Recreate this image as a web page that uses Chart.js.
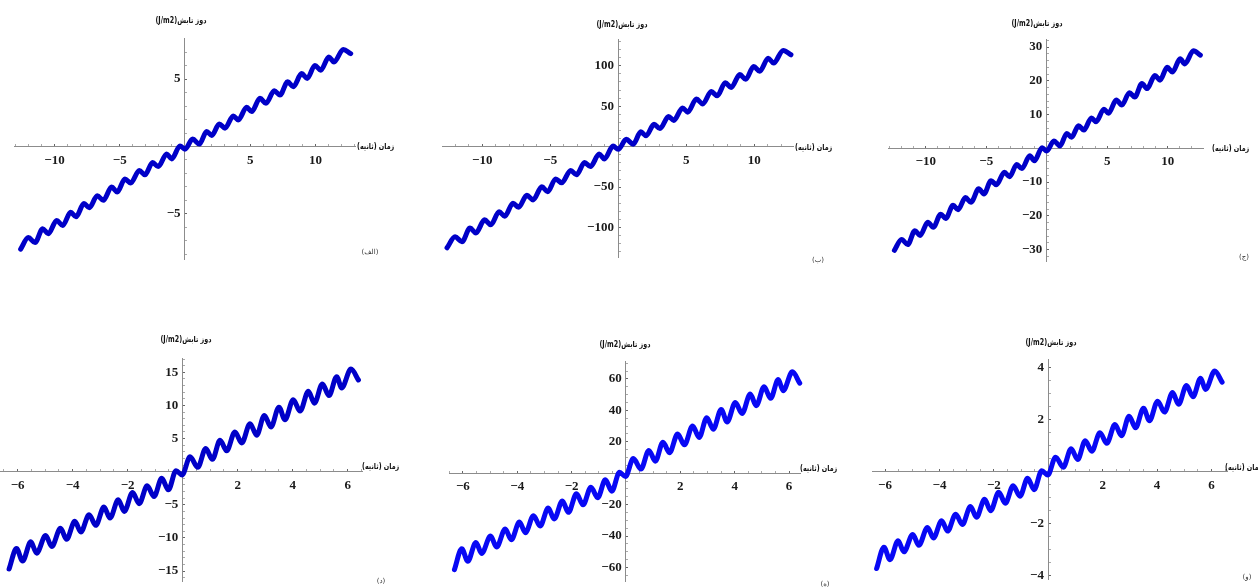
<!DOCTYPE html>
<html lang="fa">
<head>
<meta charset="utf-8">
<title>دوز تابش</title>
<script src="https://cdn.jsdelivr.net/npm/chart.js@4.4.1/dist/chart.umd.min.js"></script>
<style>
  html, body { margin: 0; padding: 0; background: #fff; }
  #page { position: relative; width: 1258px; height: 588px; overflow: hidden; }
  canvas { position: absolute; }
  .ytitle, .xtitle, .tag { position: absolute; direction: rtl; white-space: nowrap; font-family: "DejaVu Sans", sans-serif; color: #111; }
  .ytitle { font-size: 8px; font-weight: bold; transform: translate(-50%, -50%) scaleX(0.8); }
  .xtitle { font-size: 8px; font-weight: bold; transform-origin: 0 50%; transform: translateY(-50%) scaleX(0.8); }
  .tag { font-size: 7px; color: #333; transform: translate(-50%, -50%); }
</style>
</head>
<body>
<div id="page"></div>
<script>
const timeTop = [-12.59, -12.0, -11.49, -10.9, -10.47, -9.83, -9.37, -8.76, -8.35, -7.74, -7.33, -6.72, -6.26, -5.62, -5.19, -4.6, -4.16, -3.5, -3.07, -2.48, -2.05, -1.40, -1.02, -0.38, 0.0,
  0.59, 1.10, 1.66, 2.05, 2.63, 3.07, 3.70, 4.08, 4.73, 5.11, 5.75, 6.21, 6.84, 7.28, 7.87, 8.30, 8.94, 9.37, 9.96, 10.40, 11.03, 11.42, 12.13, 12.70];
const timeBottom = [-6.31, -6.04, -5.82, -5.52, -5.31, -4.98, -4.76, -4.44, -4.22, -3.92, -3.70, -3.40, -3.16, -2.86, -2.64, -2.34, -2.12, -1.82, -1.58, -1.29, -1.04, -0.76, -0.52, -0.24, -0.02,
  0.27, 0.55, 0.84, 1.08, 1.36, 1.60, 1.90, 2.15, 2.45, 2.69, 2.97, 3.21, 3.50, 3.72, 4.02, 4.27, 4.57, 4.79, 5.08, 5.32, 5.60, 5.78, 6.12, 6.39];

// dose (J/m2) at those times, one array per panel
const doseA = [-7.61, -6.75, -7.12, -6.09, -6.46, -5.48, -5.85, -4.87, -5.21, -4.23, -4.54, -3.64, -3.99, -3.0, -3.37, -2.41, -2.71, -1.78, -2.10, -1.19, -1.49, -0.55, -0.92, 0.04, -0.2,
  0.55, 0.18, 1.11, 0.82, 1.67, 1.36, 2.26, 1.97, 2.90, 2.59, 3.57, 3.20, 4.13, 3.81, 4.79, 4.43, 5.40, 5.04, 6.01, 5.65, 6.63, 6.26, 7.19, 6.88];
const doseB = [-125, -111.4, -117.5, -100.5, -106.6, -90.4, -96.5, -80.4, -86.0, -69.8, -74.9, -60.1, -65.8, -49.5, -55.6, -39.8, -44.7, -29.4, -34.7, -19.6, -24.6, -9.1, -15.2, 0.7, -3.3,
  9.1, 3.0, 18.3, 13.5, 27.6, 22.4, 37.3, 32.5, 47.9, 42.7, 58.9, 52.8, 68.1, 62.9, 79.0, 73.1, 89.1, 83.2, 99.2, 93.2, 109.4, 103.3, 119, 113.6];
const doseC = [-30.2, -27.0, -28.5, -24.4, -25.8, -21.9, -23.4, -19.5, -20.8, -16.9, -18.2, -14.6, -16.0, -12.0, -13.5, -9.6, -10.8, -7.1, -8.4, -4.8, -6.0, -2.2, -3.7, 0.2, -0.8,
  2.2, 0.7, 4.4, 3.3, 6.7, 5.4, 9.0, 7.9, 11.6, 10.4, 14.3, 12.8, 16.5, 15.2, 19.2, 17.7, 21.6, 20.2, 24.0, 22.6, 26.5, 25.0, 28.9, 27.6];
const doseD = [-14.7, -11.6, -13.5, -10.6, -12.3, -9.64, -11.3, -8.55, -10.2, -7.5, -9.1, -6.5, -8.1, -5.35, -7.0, -4.24, -6.0, -3.15, -4.84, -2.14, -3.75, -1.0, -2.74, 0.15, -0.5,
  2.25, 0.66, 3.5, 1.86, 4.75, 3.15, 6.0, 4.35, 7.25, 5.5, 8.5, 6.75, 9.75, 7.85, 10.85, 9.15, 12.15, 10.35, 13.25, 11.5, 14.35, 12.65, 15.5, 13.85];
const doseE = [-61.3, -48.1, -56.0, -44.0, -51.0, -40.0, -46.9, -35.5, -42.3, -31.1, -37.8, -27.0, -33.6, -22.2, -29.1, -17.6, -24.9, -13.1, -20.1, -8.9, -15.6, -4.2, -11.4, 0.6, -2.1,
  9.3, 2.7, 14.5, 7.7, 19.7, 13.1, 24.9, 18.1, 30.1, 22.8, 35.3, 28.0, 40.5, 32.6, 45.0, 38.0, 50.4, 43.0, 55.0, 47.7, 59.6, 52.5, 64.5, 57.3];
const doseF = [-3.72, -2.9, -3.38, -2.65, -3.08, -2.41, -2.83, -2.14, -2.55, -1.88, -2.28, -1.63, -2.03, -1.34, -1.75, -1.06, -1.5, -0.79, -1.21, -0.54, -0.94, -0.25, -0.69, 0.04, -0.13,
  0.56, 0.17, 0.88, 0.47, 1.19, 0.79, 1.5, 1.09, 1.81, 1.38, 2.13, 1.69, 2.44, 1.96, 2.71, 2.29, 3.04, 2.59, 3.31, 2.88, 3.59, 3.16, 3.87, 3.44];

// labelled ticks
const xLabelsTop = [-10, -5, 5, 10];
const xLabelsBottom = [-6, -4, -2, 2, 4, 6];
const yLabelsA = [-5, 5];
const yLabelsB = [-100, -50, 50, 100];
const yLabelsC = [-30, -20, -10, 10, 20, 30];
const yLabelsD = [-15, -10, -5, 5, 10, 15];
const yLabelsE = [-60, -40, -20, 20, 40, 60];
const yLabelsF = [-4, -2, 2, 4];

const yTitle = 'دوز تابش(J/m2)';
const xTitle = 'زمان (ثانیه)';

const blueDark = '#0000c8';
const blueBright = '#0808f4';
const axisGrey = '#8c8c8c';
const PAD = 16;

// box = chart area [left, top, right, bottom] in page pixels
const panels = [
  { tag: '(الف)', time: timeTop, dose: doseA, xLabels: xLabelsTop, yLabels: yLabelsA, xStep: 1, yStep: 1,
    box: [14, 38, 355, 260], x: [-13.1, 13.03], y: [-8.35, 7.98], color: blueDark,
    yTitleAt: [181, 20], xTitleAt: [357, 146], tagAt: [370, 252] },
  { tag: '(ب)', time: timeTop, dose: doseB, xLabels: xLabelsTop, yLabels: yLabelsB, xStep: 1, yStep: 10,
    box: [442, 39, 793, 258], x: [-12.96, 12.85], y: [-136.6, 132.1], color: blueDark,
    yTitleAt: [622, 24], xTitleAt: [795, 147], tagAt: [818, 260] },
  { tag: '(ج)', time: timeTop, dose: doseC, xLabels: xLabelsTop, yLabels: yLabelsC, xStep: 1, yStep: 2,
    box: [888, 39, 1203, 262], x: [-13.12, 12.92], y: [-33.44, 32.15], color: blueDark,
    yTitleAt: [1037, 23], xTitleAt: [1212, 148], tagAt: [1244, 257] },
  { tag: '(د)', time: timeBottom, dose: doseD, xLabels: xLabelsBottom, yLabels: yLabelsD, xStep: 0.5, yStep: 1,
    box: [0, 358, 362, 582], x: [-6.64, 6.52], y: [-16.54, 17.05], color: blueDark,
    yTitleAt: [186, 339], xTitleAt: [362, 466], tagAt: [381, 581] },
  { tag: '(ه)', time: timeBottom, dose: doseE, xLabels: xLabelsBottom, yLabels: yLabelsE, xStep: 0.5, yStep: 5,
    box: [449, 361, 800, 582], x: [-6.51, 6.40], y: [-68.7, 70.9], color: blueBright,
    yTitleAt: [625, 344], xTitleAt: [800, 468], tagAt: [825, 584] },
  { tag: '(و)', time: timeBottom, dose: doseF, xLabels: xLabelsBottom, yLabels: yLabelsF, xStep: 0.5, yStep: 0.5,
    box: [872, 359, 1227, 580], x: [-6.48, 6.57], y: [-4.13, 4.30], color: blueBright,
    yTitleAt: [1051, 342], xTitleAt: [1225, 467], tagAt: [1247, 577] }
];

function findLabel(labels, v) {
  return labels.find(n => Math.abs(n - v) < 1e-6);
}

function axis(kind, range, step, labels, pos) {
  // a y axis pinned at x = 0 puts its labels right on the line, so a small space keeps them off it
  const gap = kind === 'y' ? '\u2004' : '';
  return {
    type: 'linear',
    position: pos,
    min: range[0],
    max: range[1],
    border: { display: true, color: axisGrey, width: 1 },
    grid: {
      drawOnChartArea: false,
      drawTicks: true,
      tickLength: -3,
      tickColor: c => (c.tick && findLabel(labels, c.tick.value) !== undefined) ? '#666' : '#aaa'
    },
    ticks: {
      stepSize: step,
      includeBounds: false,
      autoSkip: false,
      maxRotation: 0,
      padding: 9,
      color: '#1a1a1a',
      font: { family: 'Liberation Serif', size: 13, weight: 'bold' },
      callback: v => {
        const n = findLabel(labels, v);
        if (n === undefined) return '';
        return (n < 0 ? '\u2212' + Math.abs(n) : String(n)) + gap;
      }
    }
  };
}

function addText(cls, text, at) {
  const d = document.createElement('div');
  d.className = cls;
  d.textContent = text;
  d.style.left = at[0] + 'px';
  d.style.top = at[1] + 'px';
  page.appendChild(d);
}

const page = document.getElementById('page');

panels.forEach(p => {
  const [l, t, r, b] = p.box;
  const cv = document.createElement('canvas');
  cv.width = r - l + 2 * PAD;
  cv.height = b - t + 2 * PAD;
  cv.style.left = (l - PAD) + 'px';
  cv.style.top = (t - PAD) + 'px';
  page.appendChild(cv);

  new Chart(cv, {
    type: 'line',
    data: {
      datasets: [{
        data: p.time.map((x, i) => ({ x: x, y: p.dose[i] })),
        borderColor: p.color,
        borderWidth: 5,
        pointRadius: 0,
        cubicInterpolationMode: 'monotone',
        borderCapStyle: 'round',
        borderJoinStyle: 'round',
        fill: false,
        clip: 10
      }]
    },
    options: {
      responsive: false,
      animation: false,
      events: [],
      layout: { padding: PAD },
      plugins: { legend: { display: false }, tooltip: { enabled: false } },
      scales: {
        x: axis('x', p.x, p.xStep, p.xLabels, { y: 0 }),
        y: axis('y', p.y, p.yStep, p.yLabels, { x: 0 })
      }
    }
  });

  addText('ytitle', yTitle, p.yTitleAt);
  addText('xtitle', xTitle, p.xTitleAt);
  addText('tag', p.tag, p.tagAt);
});
</script>
</body>
</html>
